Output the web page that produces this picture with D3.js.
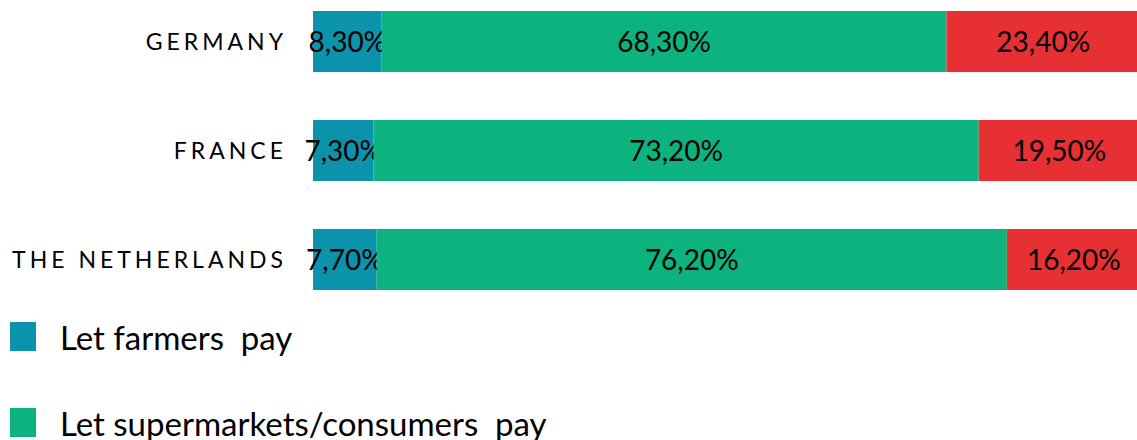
<!DOCTYPE html>
<html>
<head>
<meta charset="utf-8">
<script src="https://cdn.jsdelivr.net/npm/d3@7"></script>
<style>
  body { margin: 0; background: #fff; }
  svg { display: block; font-family: Lato, "Open Sans", sans-serif; }
</style>
</head>
<body>
<svg id="chart" width="1137" height="440"></svg>
<script>
// data
var countries = ["GERMANY", "FRANCE", "THE NETHERLANDS"];
var seriesNames = ["Let farmers  pay", "Let supermarkets/consumers  pay", "Don't know"];
var farmers = [8.3, 7.3, 7.7];
var supermarkets = [68.3, 73.2, 76.2];
var dontKnow = [23.4, 19.5, 16.2];
var colors = ["#0b93ab", "#0db37e", "#e73034"];

var svg = d3.select("#chart");

var rows = countries.map((c, i) => ({ country: c, s0: farmers[i], s1: supermarkets[i], s2: dontKnow[i] }));
var keys = ["s0", "s1", "s2"];
var stacked = d3.stack().keys(keys)(rows);

var x = d3.scaleLinear().domain([0, 100]).range([313, 1140]);
var y = d3.scaleBand().domain(countries).range([11, 290]).paddingInner(0.44).paddingOuter(0);

var fmt = v => v.toFixed(2).replace(".", ",") + "%";

var layer = svg.selectAll("g.layer")
    .data(stacked)
    .enter().append("g")
    .attr("class", "layer")
    .attr("fill", (d, i) => colors[i]);

layer.selectAll("rect")
    .data(d => d)
    .enter().append("rect")
    .attr("x", d => x(d[0]))
    .attr("y", d => y(d.data.country))
    .attr("width", d => x(d[1]) - x(d[0]))
    .attr("height", y.bandwidth());

layer.selectAll("text")
    .data(d => d)
    .enter().append("text")
    .attr("x", d => (x(d[0]) + x(d[1])) / 2)
    .attr("y", d => y(d.data.country) + y.bandwidth() / 2)
    .attr("dy", "0.38em")
    .attr("text-anchor", "middle")
    .attr("fill", "#000")
    .style("font-size", "28px")
    .text(d => fmt(d[1] - d[0]));

// category labels
var ls = 4;
var yAxis = d3.axisLeft(y).tickSize(0).tickPadding(0);
var ax = svg.append("g")
    .attr("transform", "translate(" + (283 + ls) + ",0)")
    .call(yAxis);
ax.select(".domain").remove();
ax.selectAll("text")
    .attr("fill", "#000")
    .attr("dy", "0.36em")
    .style("font-family", "Lato, sans-serif")
    .style("font-size", "23px")
    .style("letter-spacing", ls + "px");

// legend
var legend = svg.selectAll("g.legend")
    .data(seriesNames)
    .enter().append("g")
    .attr("class", "legend")
    .attr("transform", (d, i) => "translate(10," + (322 + i * 86) + ")");

legend.append("rect")
    .attr("width", 26)
    .attr("height", 29)
    .attr("fill", (d, i) => colors[i]);

legend.append("text")
    .attr("x", 50)
    .attr("y", 28)
    .style("font-size", "33px")
    .style("white-space", "pre")
    .attr("fill", "#000")
    .text(d => d);
</script>
</body>
</html>
